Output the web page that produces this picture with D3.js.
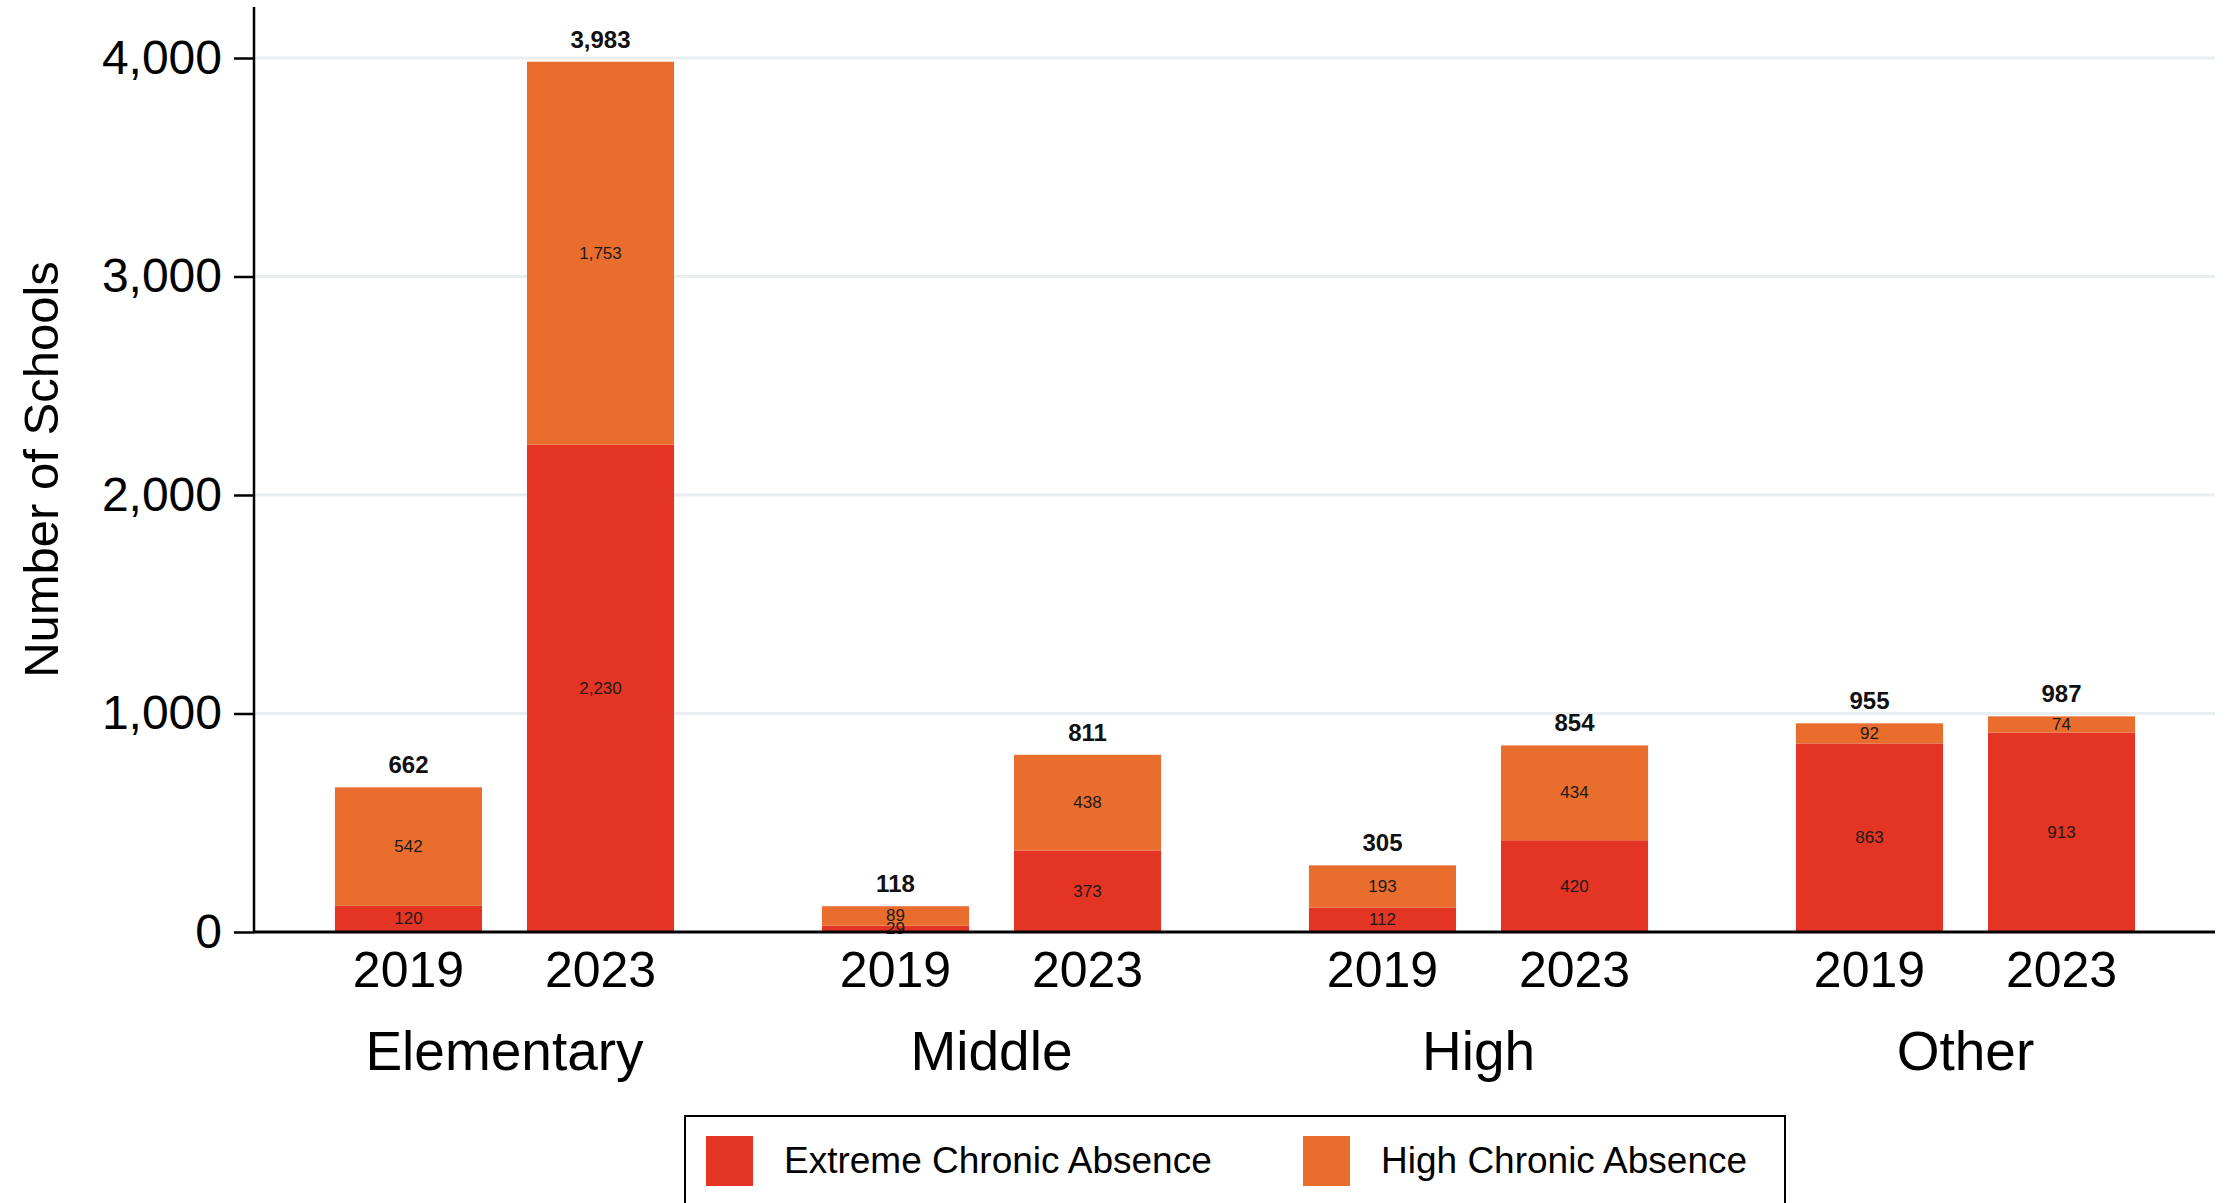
<!DOCTYPE html>
<html>
<head>
<meta charset="utf-8">
<script src="https://cdn.jsdelivr.net/npm/d3@7"></script>
<style>
  html, body { margin: 0; padding: 0; background: #fff; }
  svg { display: block; font-family: "Liberation Sans", Arial, Helvetica, sans-serif; }
</style>
</head>
<body>
<svg id="chart" width="2234" height="1203"></svg>
<script>
// School levels and the two survey years
const groups = ["Elementary", "Middle", "High", "Other"];
const years = ["2019", "2023"];

// Schools with extreme chronic absence, per group, in year order
const extremeValues = [120, 2230, 29, 373, 112, 420, 863, 913];
// Schools with high chronic absence, per group, in year order
const highValues = [542, 1753, 89, 438, 193, 434, 92, 74];

const seriesKeys = ["extreme", "high"];
const seriesLabels = ["Extreme Chronic Absence", "High Chronic Absence"];
const seriesColors = ["#e43424", "#e96d2d"];

const yTicks = [0, 1000, 2000, 3000, 4000];

// Rows: one per bar
const rows = [];
groups.forEach((g, gi) => {
  years.forEach((yr, yi) => {
    const i = gi * years.length + yi;
    rows.push({ group: g, year: yr, extreme: extremeValues[i], high: highValues[i] });
  });
});

const svg = d3.select("#chart");
const fmt = d3.format(",");

const plot = { left: 254, right: 2215, top: 7, bottom: 932 };

const y = d3.scaleLinear().domain([0, 4000]).range([plot.bottom, 58]);

const x0 = d3.scaleBand().domain(groups).range([261, 2209]).paddingInner(0).paddingOuter(0);
const x1 = d3.scaleBand().domain(years).range([0, x0.bandwidth()])
  .paddingInner(0.234).paddingOuter(0.385);

const color = d3.scaleOrdinal().domain(seriesKeys).range(seriesColors);

// Horizontal gridlines
svg.append("g")
  .selectAll("line")
  .data(yTicks.filter(d => d > 0))
  .join("line")
  .attr("x1", plot.left)
  .attr("x2", plot.right)
  .attr("y1", d => y(d))
  .attr("y2", d => y(d))
  .attr("stroke", "#e9eff1")
  .attr("stroke-width", 3);

// Stacked bars
const stacked = d3.stack().keys(seriesKeys)(rows);

const barG = svg.append("g");
stacked.forEach(layer => {
  barG.append("g")
    .attr("fill", color(layer.key))
    .selectAll("rect")
    .data(layer)
    .join("rect")
    .attr("x", d => x0(d.data.group) + x1(d.data.year))
    .attr("width", x1.bandwidth())
    .attr("y", d => y(d[1]))
    .attr("height", d => y(d[0]) - y(d[1]));
});

// Segment value labels
stacked.forEach(layer => {
  svg.append("g")
    .selectAll("text")
    .data(layer)
    .join("text")
    .attr("x", d => x0(d.data.group) + x1(d.data.year) + x1.bandwidth() / 2)
    .attr("y", d => y((d[0] + d[1]) / 2))
    .attr("text-anchor", "middle")
    .attr("dominant-baseline", "central")
    .attr("font-size", 17)
    .attr("fill", "#1e1a18")
    .text(d => fmt(d[1] - d[0]));
});

// Totals above bars
svg.append("g")
  .selectAll("text")
  .data(rows)
  .join("text")
  .attr("x", d => x0(d.group) + x1(d.year) + x1.bandwidth() / 2)
  .attr("y", d => y(d.extreme + d.high) - 14)
  .attr("text-anchor", "middle")
  .attr("font-size", 24)
  .attr("font-weight", "bold")
  .attr("fill", "#111")
  .text(d => fmt(d.extreme + d.high));

// Y axis
const yAxis = svg.append("g")
  .attr("transform", `translate(${plot.left},0)`)
  .call(d3.axisLeft(y).tickValues(yTicks).tickFormat(fmt).tickSize(20).tickPadding(12));
yAxis.select(".domain").remove();
yAxis.selectAll(".tick line").attr("stroke", "#000").attr("stroke-width", 2.5);
yAxis.selectAll(".tick text")
  .attr("font-size", 48)
  .attr("fill", "#000")
  .attr("font-family", "\"Liberation Sans\", Arial, sans-serif");

// Axis lines
svg.append("line")
  .attr("x1", plot.left).attr("x2", plot.left)
  .attr("y1", plot.top).attr("y2", plot.bottom + 1)
  .attr("stroke", "#000").attr("stroke-width", 2.5);
svg.append("line")
  .attr("x1", plot.left).attr("x2", plot.right)
  .attr("y1", plot.bottom).attr("y2", plot.bottom)
  .attr("stroke", "#000").attr("stroke-width", 3);

// Year labels under each bar
svg.append("g")
  .selectAll("text")
  .data(rows)
  .join("text")
  .attr("x", d => x0(d.group) + x1(d.year) + x1.bandwidth() / 2)
  .attr("y", 987)
  .attr("text-anchor", "middle")
  .attr("font-size", 50)
  .attr("fill", "#000")
  .text(d => d.year);

// Group labels
svg.append("g")
  .selectAll("text")
  .data(groups)
  .join("text")
  .attr("x", d => x0(d) + x0.bandwidth() / 2)
  .attr("y", 1070)
  .attr("text-anchor", "middle")
  .attr("font-size", 55)
  .attr("fill", "#000")
  .text(d => d);

// Y axis title
svg.append("text")
  .attr("transform", `translate(58,${(plot.top + plot.bottom) / 2}) rotate(-90)`)
  .attr("text-anchor", "middle")
  .attr("font-size", 49)
  .attr("fill", "#000")
  .text("Number of Schools");

// Legend
const legend = svg.append("g");
legend.append("rect")
  .attr("x", 685).attr("y", 1116)
  .attr("width", 1100).attr("height", 94)
  .attr("fill", "#fff")
  .attr("stroke", "#000").attr("stroke-width", 2);

const legendX = [706, 1303];
const legendItems = legend.selectAll("g.item")
  .data(seriesKeys)
  .join("g")
  .attr("class", "item")
  .attr("transform", (d, i) => `translate(${legendX[i]},1136)`);
legendItems.append("rect")
  .attr("width", 47).attr("height", 50)
  .attr("fill", d => color(d));
legendItems.append("text")
  .attr("x", 78).attr("y", 37)
  .attr("font-size", 37)
  .attr("fill", "#000")
  .text((d, i) => seriesLabels[i]);
</script>
</body>
</html>
